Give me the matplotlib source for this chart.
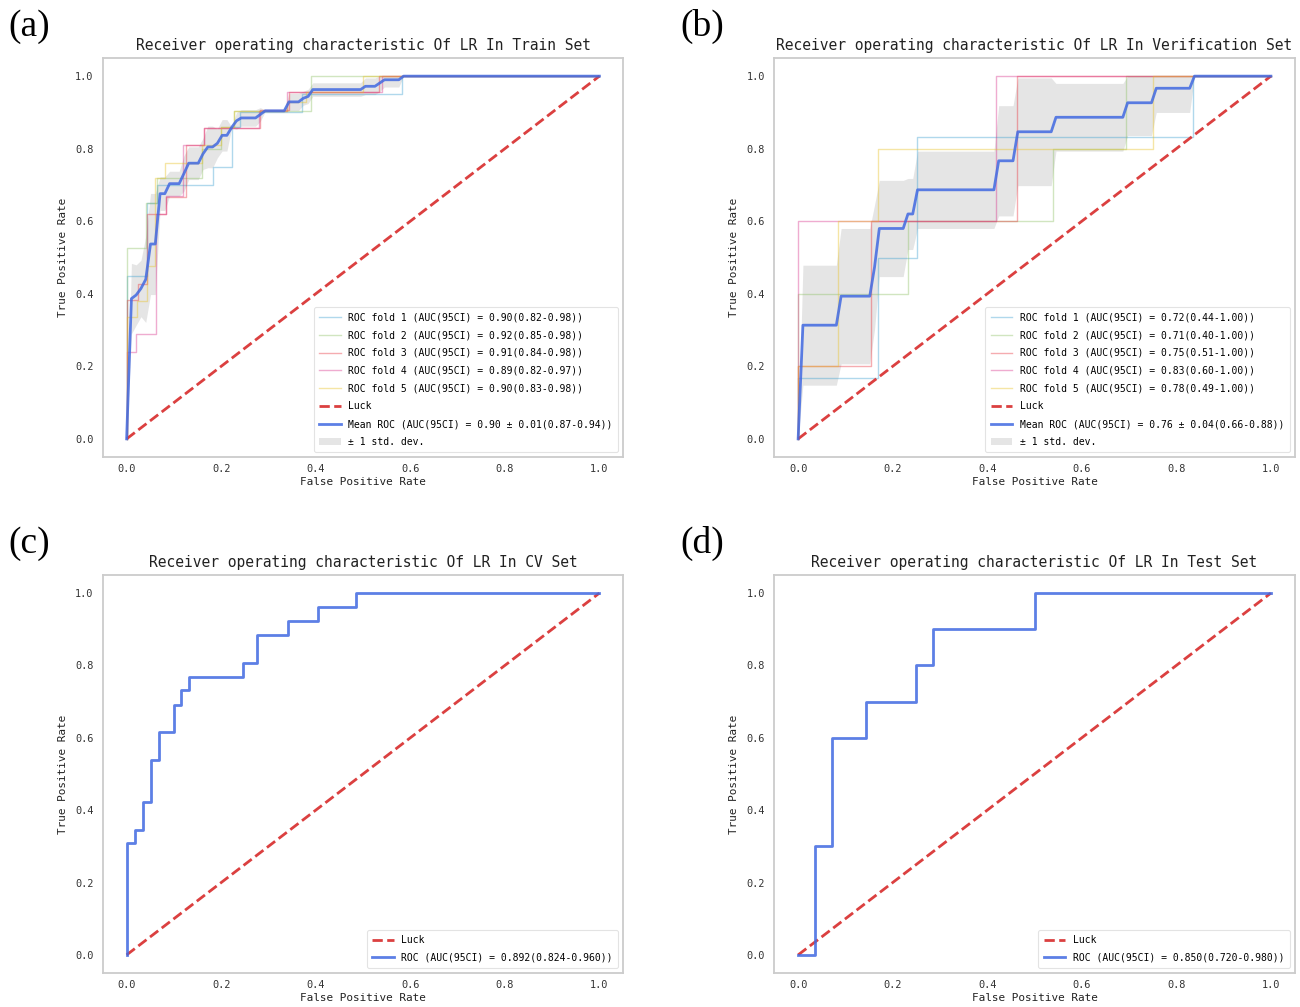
import numpy as np
import matplotlib
matplotlib.use("Agg")
import matplotlib.pyplot as plt

# ---------------- data ----------------
# Panel (a): Train set, 5 folds (fpr, tpr step vertices)
a_fold1_fpr = [0, 0, 0.044, 0.044, 0.065, 0.065, 0.183, 0.183, 0.222, 0.222, 0.24, 0.24, 0.37, 0.37, 0.583, 0.583, 1]
a_fold1_tpr = [0, 0.45, 0.45, 0.65, 0.65, 0.70, 0.70, 0.75, 0.75, 0.86, 0.86, 0.90, 0.90, 0.95, 0.95, 1.0, 1]
a_fold2_fpr = [0, 0, 0.04, 0.04, 0.065, 0.065, 0.16, 0.16, 0.20, 0.20, 0.227, 0.227, 0.39, 0.39, 1]
a_fold2_tpr = [0, 0.525, 0.525, 0.65, 0.65, 0.72, 0.72, 0.80, 0.80, 0.86, 0.86, 0.905, 0.905, 1.0, 1]
a_fold3_fpr = [0, 0, 0.023, 0.023, 0.044, 0.044, 0.084, 0.084, 0.125, 0.125, 0.163, 0.163, 0.283, 0.283, 0.343, 0.343, 0.533, 0.533, 1]
a_fold3_tpr = [0, 0.382, 0.382, 0.428, 0.428, 0.62, 0.62, 0.668, 0.668, 0.81, 0.81, 0.857, 0.857, 0.907, 0.907, 0.955, 0.955, 1.0, 1]
a_fold4_fpr = [0, 0, 0.02, 0.02, 0.063, 0.063, 0.084, 0.084, 0.12, 0.12, 0.163, 0.163, 0.28, 0.28, 0.34, 0.34, 0.54, 0.54, 1]
a_fold4_tpr = [0, 0.24, 0.24, 0.29, 0.29, 0.62, 0.62, 0.67, 0.67, 0.81, 0.81, 0.857, 0.857, 0.905, 0.905, 0.955, 0.955, 1.0, 1]
a_fold5_fpr = [0, 0, 0.021, 0.021, 0.044, 0.044, 0.061, 0.061, 0.082, 0.082, 0.16, 0.16, 0.20, 0.20, 0.227, 0.227, 0.34, 0.34, 0.38, 0.38, 0.50, 0.50, 1]
a_fold5_tpr = [0, 0.336, 0.336, 0.38, 0.38, 0.476, 0.476, 0.72, 0.72, 0.76, 0.76, 0.81, 0.81, 0.86, 0.86, 0.905, 0.905, 0.93, 0.93, 0.955, 0.955, 1.0, 1]
a_labels = [
    "ROC fold 1 (AUC(95CI) = 0.90(0.82-0.98))",
    "ROC fold 2 (AUC(95CI) = 0.92(0.85-0.98))",
    "ROC fold 3 (AUC(95CI) = 0.91(0.84-0.98))",
    "ROC fold 4 (AUC(95CI) = 0.89(0.82-0.97))",
    "ROC fold 5 (AUC(95CI) = 0.90(0.83-0.98))",
]
a_mean_label = "Mean ROC (AUC(95CI) = 0.90 ± 0.01(0.87-0.94))"

# Panel (b): Verification set, 5 folds
b_fold1_fpr = [0, 0, 0.168, 0.168, 0.251, 0.251, 0.835, 0.835, 1]
b_fold1_tpr = [0, 0.167, 0.167, 0.5, 0.5, 0.833, 0.833, 1.0, 1]
b_fold2_fpr = [0, 0, 0.232, 0.232, 0.54, 0.54, 0.693, 0.693, 1]
b_fold2_tpr = [0, 0.4, 0.4, 0.6, 0.6, 0.8, 0.8, 1.0, 1]
b_fold3_fpr = [0, 0, 0.155, 0.155, 0.462, 0.462, 1]
b_fold3_tpr = [0, 0.2, 0.2, 0.6, 0.6, 1.0, 1]
b_fold4_fpr = [0, 0, 0.419, 0.419, 1]
b_fold4_tpr = [0, 0.6, 0.6, 1.0, 1]
b_fold5_fpr = [0, 0, 0.085, 0.085, 0.168, 0.168, 0.75, 0.75, 1]
b_fold5_tpr = [0, 0.2, 0.2, 0.6, 0.6, 0.8, 0.8, 1.0, 1]
b_labels = [
    "ROC fold 1 (AUC(95CI) = 0.72(0.44-1.00))",
    "ROC fold 2 (AUC(95CI) = 0.71(0.40-1.00))",
    "ROC fold 3 (AUC(95CI) = 0.75(0.51-1.00))",
    "ROC fold 4 (AUC(95CI) = 0.83(0.60-1.00))",
    "ROC fold 5 (AUC(95CI) = 0.78(0.49-1.00))",
]
b_mean_label = "Mean ROC (AUC(95CI) = 0.76 ± 0.04(0.66-0.88))"

# Panel (c): CV set
c_fpr = [0, 0, 0.018, 0.018, 0.035, 0.035, 0.051, 0.051, 0.069, 0.069, 0.100, 0.100, 0.116, 0.116,
         0.132, 0.132, 0.246, 0.246, 0.276, 0.276, 0.341, 0.341, 0.405, 0.405, 0.486, 0.486, 1]
c_tpr = [0, 0.308, 0.308, 0.346, 0.346, 0.423, 0.423, 0.538, 0.538, 0.615, 0.615, 0.692, 0.692, 0.731,
         0.731, 0.769, 0.769, 0.808, 0.808, 0.885, 0.885, 0.923, 0.923, 0.962, 0.962, 1.0, 1]
c_label = "ROC (AUC(95CI) = 0.892(0.824-0.960))"

# Panel (d): Test set
d_fpr = [0, 0.036, 0.036, 0.071, 0.071, 0.143, 0.143, 0.25, 0.25, 0.286, 0.286, 0.5, 0.5, 1]
d_tpr = [0, 0, 0.3, 0.3, 0.6, 0.6, 0.7, 0.7, 0.8, 0.8, 0.9, 0.9, 1.0, 1]
d_label = "ROC (AUC(95CI) = 0.850(0.720-0.980))"

titles = [
    "Receiver operating characteristic Of LR In Train Set",
    "Receiver operating characteristic Of LR In Verification Set",
    "Receiver operating characteristic Of LR In CV Set",
    "Receiver operating characteristic Of LR In Test Set",
]
panel_tags = ["(a)", "(b)", "(c)", "(d)"]
ticks = [0.0, 0.2, 0.4, 0.6, 0.8, 1.0]

# ---------------- styling ----------------
MONO = ["DejaVu Sans Mono"]
plt.rcParams["font.family"] = MONO
fold_colors = ["#3a9fd0", "#8cc063", "#e8303a", "#d8308a", "#e8c020"]
mean_color = "royalblue"
luck_color = "#d93535"
spine_color = "#cccccc"

W, H = 1300, 1007
fig = plt.figure(figsize=(W / 100, H / 100), dpi=100)
fig.patch.set_facecolor("white")

def ax_rect(left, right, top, bottom):
    return [left / W, (H - bottom) / H, (right - left) / W, (bottom - top) / H]

rects = [
    ax_rect(103, 623, 58, 457),
    ax_rect(774.5, 1294.5, 58, 457),
    ax_rect(103, 623, 575, 973),
    ax_rect(774.5, 1294.5, 575, 973),
]
axes = [fig.add_axes(r) for r in rects]

def style(ax, title):
    for s in ax.spines.values():
        s.set_color(spine_color)
        s.set_linewidth(1.3)
    ax.set_xticks(ticks)
    ax.set_yticks(ticks)
    ax.set_xticklabels([f"{t:.1f}" for t in ticks])
    ax.set_yticklabels([f"{t:.1f}" for t in ticks])
    ax.tick_params(axis="both", length=0, labelsize=7.4, labelcolor="#333333")
    ax.tick_params(axis="x", pad=5)
    ax.tick_params(axis="y", pad=7)
    ax.set_xlim(-0.05, 1.05)
    ax.set_ylim(-0.05, 1.05)
    ax.set_xlabel("False Positive Rate", fontsize=7.9, color="#222222", labelpad=2)
    ax.set_ylabel("True Positive Rate", fontsize=7.9, color="#222222", labelpad=5)
    ax.set_title(title, fontsize=10.5, color="#222222", pad=6)

def folds_panel(ax, folds, labels, mean_label):
    mean_fpr = np.linspace(0, 1, 100)
    tprs = []
    for (fpr, tpr), lab, col in zip(folds, labels, fold_colors):
        ax.plot(fpr, tpr, lw=1, alpha=0.4, color=col, label=lab)
        it = np.interp(mean_fpr, fpr, tpr)
        it[0] = 0.0
        tprs.append(it)
    ax.plot([0, 1], [0, 1], linestyle="--", lw=2, color=luck_color, label="Luck", alpha=0.95)
    mean_tpr = np.mean(tprs, axis=0)
    mean_tpr[-1] = 1.0
    ax.plot(mean_fpr, mean_tpr, color=mean_color, lw=2, alpha=0.85, label=mean_label)
    std_tpr = np.std(tprs, axis=0)
    upper = np.minimum(mean_tpr + std_tpr, 1)
    lower = np.maximum(mean_tpr - std_tpr, 0)
    ax.fill_between(mean_fpr, lower, upper, color="grey", alpha=0.2, lw=0, label="± 1 std. dev.")

def legend(ax):
    leg = ax.legend(loc="lower right", fontsize=7, labelspacing=0.8, frameon=True,
                    fancybox=True, edgecolor="#dddddd", handlelength=2.2, borderpad=0.55)
    leg.get_frame().set_linewidth(0.8)

folds_panel(axes[0],
            [(a_fold1_fpr, a_fold1_tpr), (a_fold2_fpr, a_fold2_tpr), (a_fold3_fpr, a_fold3_tpr),
             (a_fold4_fpr, a_fold4_tpr), (a_fold5_fpr, a_fold5_tpr)],
            a_labels, a_mean_label)
folds_panel(axes[1],
            [(b_fold1_fpr, b_fold1_tpr), (b_fold2_fpr, b_fold2_tpr), (b_fold3_fpr, b_fold3_tpr),
             (b_fold4_fpr, b_fold4_tpr), (b_fold5_fpr, b_fold5_tpr)],
            b_labels, b_mean_label)

for ax, fpr, tpr, lab in [(axes[2], c_fpr, c_tpr, c_label), (axes[3], d_fpr, d_tpr, d_label)]:
    ax.plot([0, 1], [0, 1], linestyle="--", lw=2, color=luck_color, label="Luck", alpha=0.95)
    ax.plot(fpr, tpr, color=mean_color, lw=2, alpha=0.85, label=lab)

for ax, t in zip(axes, titles):
    style(ax, t)
    legend(ax)

tag_pos = [(8, 9), (680, 9), (8, 526), (680, 526)]
for (x, y), tag in zip(tag_pos, panel_tags):
    fig.text(x / W, 1 - y / H, tag, ha="left", va="top", fontsize=27,
             family=["Liberation Serif", "DejaVu Serif"], color="black")

fig.savefig("out.png", dpi=100, facecolor="white")
